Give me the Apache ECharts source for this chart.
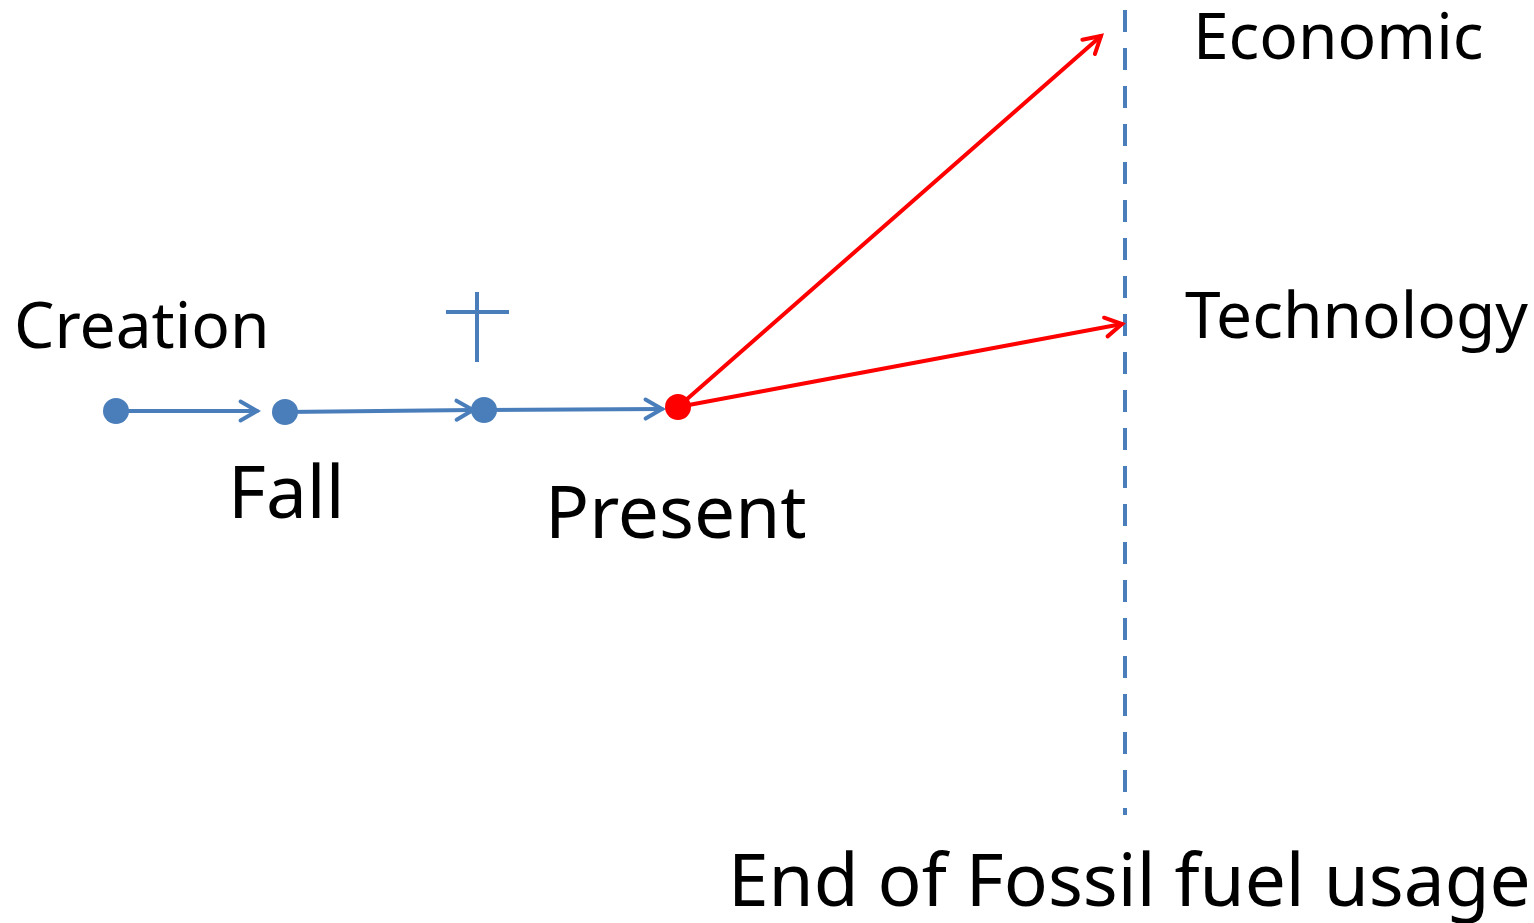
<!DOCTYPE html>
<html><head><meta charset="utf-8">
<script src="https://cdn.jsdelivr.net/npm/echarts@6/dist/echarts.min.js"></script>
<style>html,body{margin:0;padding:0;background:#fff}#c{width:1534px;height:923px}</style>
</head><body><div id="c"></div>
<script>
// Timeline nodes (x, y in diagram units)
const blueNodes = [[116, 411], [285, 412], [484, 410]];
const presentNode = [[678, 407]];
// Arrows: [x1, y1, x2, y2]
const blueArrows = [[116, 411, 257, 411], [285, 412, 473, 410], [484, 410, 662, 409]];
const redArrows = [[678, 407, 1101, 36], [678, 407, 1122, 324]];
// Vertical dashed horizon line
const horizonLine = [[1125, 10], [1125, 815]];
// Cross symbol
const crossVertical = [[477, 292], [477, 362]];
const crossHorizontal = [[446, 312], [509, 312]];
// Text labels
const labelTexts = ['Creation', 'Fall', 'Present', 'Economic', 'Technology', 'End of Fossil fuel usage'];
const labelX = [14, 228, 545, 1193, 1185, 728];
const labelY = [330, 497, 517, 41, 320, 885];
const labelSize = [64, 73, 73, 64, 64, 73];

const BLUE = '#4a7ebb';
const RED = '#ff0000';
const FONT = '"Noto Sans", sans-serif';

function arrowRender(color) {
  return function (params, api) {
    const p1 = api.coord([api.value(0), api.value(1)]);
    const p2 = api.coord([api.value(2), api.value(3)]);
    const ang = Math.atan2(p2[1] - p1[1], p2[0] - p1[0]);
    const L = 19, A = Math.PI / 6;
    const a1 = [p2[0] - L * Math.cos(ang - A), p2[1] - L * Math.sin(ang - A)];
    const a2 = [p2[0] - L * Math.cos(ang + A), p2[1] - L * Math.sin(ang + A)];
    return {
      type: 'group',
      children: [
        { type: 'line', shape: { x1: p1[0], y1: p1[1], x2: p2[0], y2: p2[1] },
          style: { stroke: color, lineWidth: 4, lineCap: 'round' } },
        { type: 'polyline', shape: { points: [a1, p2, a2] },
          style: { stroke: color, lineWidth: 4, fill: null, lineCap: 'round', lineJoin: 'miter' } }
      ]
    };
  };
}

const labelData = labelTexts.map((t, i) => [labelX[i], labelY[i], labelSize[i]]);

const chart = echarts.init(document.getElementById('c'));
chart.setOption({
  animation: false,
  backgroundColor: '#ffffff',
  grid: { left: 0, right: 0, top: 0, bottom: 0 },
  xAxis: { type: 'value', min: 0, max: 1534, show: false },
  yAxis: { type: 'value', min: 0, max: 923, inverse: true, show: false },
  series: [
    { type: 'line', data: horizonLine, symbol: 'none',
      lineStyle: { color: BLUE, width: 4, type: [22, 16] }, z: 1 },
    { type: 'line', data: crossVertical, symbol: 'none', lineStyle: { color: BLUE, width: 4 } },
    { type: 'line', data: crossHorizontal, symbol: 'none', lineStyle: { color: BLUE, width: 4 } },
    { type: 'custom', data: blueArrows, renderItem: arrowRender(BLUE), z: 2 },
    { type: 'custom', data: redArrows, renderItem: arrowRender(RED), z: 2 },
    { type: 'scatter', data: blueNodes, symbolSize: 26, itemStyle: { color: BLUE, opacity: 1 }, z: 3 },
    { type: 'scatter', data: presentNode, symbolSize: 26, itemStyle: { color: RED, opacity: 1 }, z: 3 },
    { type: 'custom', data: labelData, z: 4,
      renderItem: function (params, api) {
        const p = api.coord([api.value(0), api.value(1)]);
        return { type: 'text', x: p[0], y: p[1],
          style: { text: labelTexts[params.dataIndex], fill: '#000',
                   font: labelSize[params.dataIndex] + 'px ' + FONT,
                   textAlign: 'left', textVerticalAlign: 'middle' } };
      } }
  ]
});
</script></body></html>
